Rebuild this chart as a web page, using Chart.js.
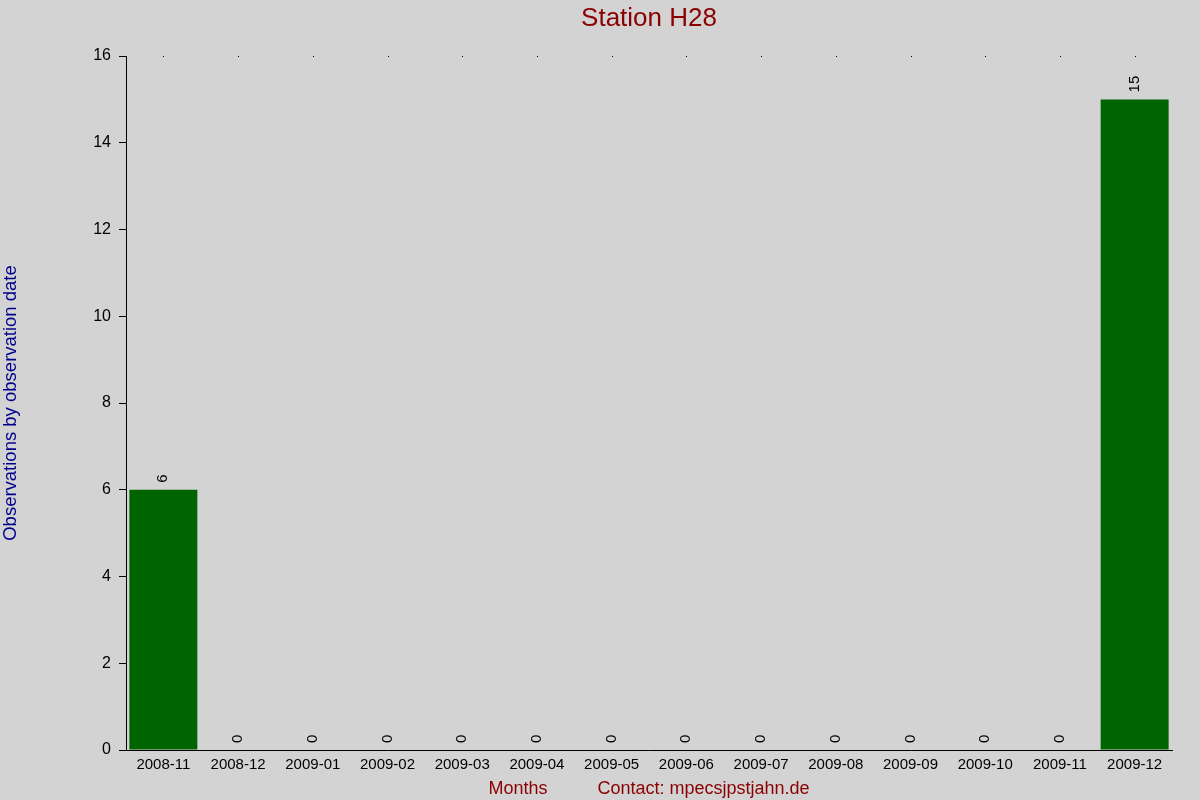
<!DOCTYPE html>
<html>
<head>
<meta charset="utf-8">
<script src="https://cdn.jsdelivr.net/npm/chart.js@4.4.0/dist/chart.umd.min.js"></script>
<style>
  html, body { margin: 0; padding: 0; background: #d3d3d3; }
  canvas { display: block; }
</style>
</head>
<body>
<canvas id="myChart" width="1200" height="800"></canvas>
<script>
// data
const months = ['2008-11', '2008-12', '2009-01', '2009-02', '2009-03', '2009-04', '2009-05',
  '2009-06', '2009-07', '2009-08', '2009-09', '2009-10', '2009-11', '2009-12'];
const observations = [6, 0, 0, 0, 0, 0, 0, 0, 0, 0, 0, 0, 0, 15];
const yTicks = [0, 2, 4, 6, 8, 10, 12, 14, 16];
const chartTitle = 'Station H28';

const fontFamily = "Arial, 'Liberation Sans', sans-serif";

// background colour for the whole canvas
const bgPlugin = {
  id: 'bg',
  beforeDraw(chart) {
    const c = chart.ctx;
    c.save();
    c.fillStyle = '#d3d3d3';
    c.fillRect(0, 0, chart.width, chart.height);
    c.restore();
  }
};

// title centred over the plot area, value labels above bars, dots along the top
const labelPlugin = {
  id: 'valueLabels',
  afterDatasetsDraw(chart) {
    const c = chart.ctx;
    const area = chart.chartArea;
    const meta = chart.getDatasetMeta(0);
    const xScale = chart.scales.x;
    c.save();

    c.fillStyle = '#8b0000';
    c.font = '26px ' + fontFamily;
    c.textAlign = 'center';
    c.textBaseline = 'middle';
    c.fillText(chartTitle, (area.left + area.right) / 2, 19);

    c.fillStyle = '#000';
    c.font = '15px ' + fontFamily;
    c.textAlign = 'left';
    meta.data.forEach((bar, i) => {
      c.save();
      c.translate(bar.x, bar.y - 7);
      c.rotate(-Math.PI / 2);
      c.fillText(String(observations[i]), 0, 0);
      c.restore();
    });
    for (let i = 0; i < months.length; i++) {
      const x = Math.round(xScale.getPixelForTick(i));
      c.fillRect(x, area.top, 1, 1);
    }
    c.restore();
  }
};

new Chart(document.getElementById('myChart'), {
  type: 'bar',
  data: {
    labels: months,
    datasets: [{
      label: 'Observations',
      data: observations,
      backgroundColor: '#006400',
      borderWidth: 0,
      barPercentage: 0.91,
      categoryPercentage: 1.0
    }]
  },
  options: {
    responsive: false,
    animation: false,
    devicePixelRatio: 1,
    layout: { padding: { left: 0, right: 28, top: 56, bottom: 0 } },
    plugins: {
      legend: { display: false },
      tooltip: { enabled: false },
      title: { display: false }
    },
    scales: {
      x: {
        grid: { display: false, drawTicks: false },
        border: { color: '#000', width: 1 },
        ticks: {
          color: '#000',
          font: { family: fontFamily, size: 15 },
          padding: 6,
          maxRotation: 0,
          autoSkip: false
        },
        title: {
          display: true,
          text: 'Months          Contact: mpecsjpstjahn.de',
          color: '#8b0000',
          font: { family: fontFamily, size: 18 },
          padding: { top: 1, bottom: 0 }
        },
        afterFit(scale) { scale.height = 50; }
      },
      y: {
        min: 0,
        max: 16,
        afterBuildTicks(scale) {
          scale.ticks = yTicks.map(v => ({ value: v }));
        },
        grid: {
          drawOnChartArea: false,
          drawTicks: true,
          tickLength: 7,
          color: '#000'
        },
        border: { color: '#000', width: 1 },
        ticks: {
          color: '#000',
          font: { family: fontFamily, size: 16 },
          padding: 8
        },
        title: {
          display: true,
          text: 'Observations by observation date',
          color: '#00008b',
          font: { family: fontFamily, size: 18.5 },
          padding: { top: 0, bottom: 0 }
        },
        afterFit(scale) { scale.width = 126; }
      }
    }
  },
  plugins: [bgPlugin, labelPlugin]
});
</script>
</body>
</html>
